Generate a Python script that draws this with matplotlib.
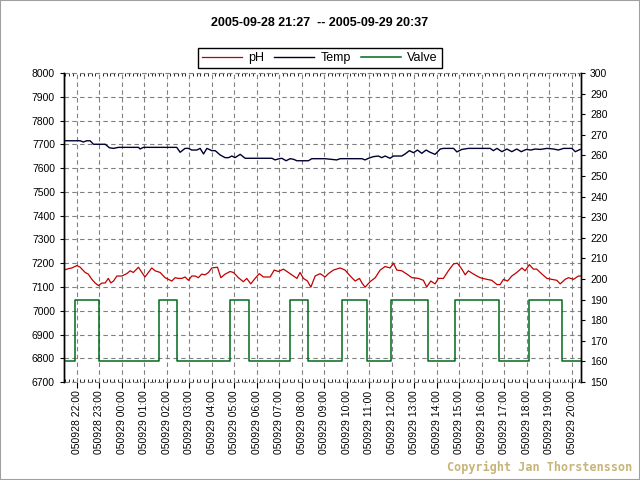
import numpy as np
import matplotlib
matplotlib.use("Agg")
import matplotlib.pyplot as plt
from matplotlib.ticker import MultipleLocator
from matplotlib.patches import Rectangle

# time in hours from 2005-09-28 00:00
ph_t = [21.44, 21.64, 21.79, 22.01, 22.16, 22.38, 22.52, 22.68, 22.82, 22.97,
        23.12, 23.27, 23.41, 23.52, 23.64, 23.79, 24.01, 24.23, 24.38, 24.52,
        24.75, 24.90, 25.04, 25.19, 25.34, 25.49, 25.71, 25.93, 26.08, 26.23,
        26.38, 26.52, 26.68, 26.82, 26.97, 27.12, 27.27, 27.41, 27.56, 27.71,
        27.86, 28.01, 28.26, 28.41, 28.60, 28.82, 28.97, 29.19, 29.41, 29.56,
        29.74, 29.93, 30.12, 30.30, 30.60, 30.78, 30.97, 31.19, 31.41, 31.64,
        31.79, 31.93, 32.08, 32.26, 32.41, 32.60, 32.82, 33.04, 33.19, 33.41,
        33.71, 33.93, 34.16, 34.38, 34.57, 34.68, 34.82, 35.04, 35.27, 35.49,
        35.71, 35.93, 36.08, 36.23, 36.45, 36.68, 36.90, 37.19, 37.41, 37.56,
        37.74, 37.93, 38.08, 38.30, 38.52, 38.75, 38.92, 39.12, 39.27, 39.41,
        39.64, 39.93, 40.23, 40.45, 40.68, 40.82, 40.97, 41.15, 41.34, 41.56,
        41.79, 41.93, 42.12, 42.30, 42.45, 42.68, 42.90, 43.12, 43.34, 43.49,
        43.71, 43.86, 44.08, 44.30, 44.45]
ph = [7171, 7177, 7180, 7190, 7183, 7161, 7154, 7132, 7117, 7106,
      7116, 7117, 7136, 7117, 7125, 7146, 7146, 7156, 7168, 7161,
      7183, 7161, 7142, 7161, 7180, 7168, 7161, 7139, 7132, 7125,
      7139, 7136, 7136, 7142, 7128, 7146, 7146, 7139, 7154, 7151,
      7161, 7180, 7183, 7139, 7154, 7165, 7161, 7139, 7122, 7136,
      7113, 7136, 7156, 7142, 7142, 7171, 7165, 7175, 7161, 7146,
      7136, 7161, 7136, 7125, 7099, 7146, 7156, 7142, 7156, 7171,
      7180, 7171, 7146, 7125, 7136, 7117, 7099, 7122, 7139, 7171,
      7186, 7180, 7200, 7171, 7168, 7154, 7139, 7136, 7128, 7100,
      7125, 7113, 7136, 7136, 7168, 7197, 7200, 7175, 7151, 7168,
      7154, 7139, 7132, 7128, 7110, 7110, 7132, 7125, 7146, 7161,
      7180, 7168, 7194, 7175, 7175, 7154, 7136, 7132, 7128, 7113,
      7132, 7139, 7132, 7146, 7146]

temp_t = [21.44, 22.16, 22.30, 22.45, 22.60, 22.75, 23.27, 23.46, 23.64, 23.86,
          24.75, 24.82, 24.97, 26.45, 26.60, 26.82, 26.97, 27.12, 27.34, 27.49,
          27.64, 27.79, 28.01, 28.16, 28.38, 28.60, 28.75, 28.90, 29.04, 29.27,
          29.49, 30.68, 30.82, 30.97, 31.12, 31.31, 31.49, 31.64, 31.79, 32.30,
          32.45, 33.04, 33.56, 33.71, 34.68, 34.82, 34.97, 35.19, 35.41, 35.56,
          35.71, 35.93, 36.08, 36.45, 36.60, 36.79, 36.97, 37.15, 37.34, 37.53,
          37.71, 37.93, 38.16, 38.30, 38.75, 38.90, 39.12, 39.41, 40.38, 40.52,
          40.68, 40.90, 41.12, 41.34, 41.56, 41.76, 41.98, 42.19, 42.38, 42.60,
          42.90, 43.19, 43.41, 43.64, 44.01, 44.16, 44.38]
temp = [267.1, 267.1, 266.5, 267.1, 267.1, 265.4, 265.4, 263.7, 263.4, 263.9,
        263.9, 263.1, 263.9, 263.9, 261.5, 263.4, 263.4, 262.6, 262.6, 263.4,
        260.7, 263.4, 262.3, 262.3, 260.2, 258.9, 258.9, 259.7, 258.9, 260.5,
        258.6, 258.6, 257.8, 258.3, 258.6, 257.4, 258.4, 258.1, 257.4, 257.4,
        258.4, 258.4, 257.8, 258.4, 258.4, 257.8, 258.6, 259.4, 259.7, 258.9,
        259.7, 258.6, 259.7, 259.7, 260.7, 262.3, 261.3, 262.6, 261.0, 262.6,
        261.5, 260.5, 263.1, 263.4, 263.4, 261.7, 262.9, 263.4, 263.4, 262.3,
        263.4, 261.8, 263.1, 261.8, 263.1, 261.8, 262.9, 262.6, 263.1, 262.9,
        263.4, 263.1, 262.6, 263.4, 263.4, 261.8, 262.9]

valve_t = [21.44, 21.95, 22.99, 25.64, 26.45, 28.81, 29.64, 31.48, 32.30,
           33.79, 34.92, 35.96, 37.61, 38.81, 40.79, 42.12, 43.59, 44.45]
valve = [160, 190, 160, 190, 160, 190, 160, 190, 160,
         190, 160, 190, 160, 190, 160, 190, 160, 160]

hours = list(range(22, 45))
xlabels = ["%s %02d:00" % ("050928" if h < 24 else "050929", h % 24) for h in hours]

plt.rcParams['font.family'] = ['Liberation Sans', 'DejaVu Sans']

fig = plt.figure(figsize=(6.4, 4.8), dpi=100)
fig.patches.append(Rectangle((0, 0), 1, 1, transform=fig.transFigure,
                             fill=False, edgecolor='#a0a0a0', lw=1.5))
ax = fig.add_axes([0.1, 0.204, 0.808, 0.644])
ax2 = ax.twinx()

ax.set_xlim(21.44, 44.42)
ax.set_ylim(6700, 8000)
ax2.set_ylim(150, 300)

l1, = ax.plot(ph_t, ph, color='#c00000', lw=0.9)
l2, = ax2.plot(temp_t, temp, color='#000030', lw=1.0)
l3, = ax2.plot(valve_t, valve, color='#006b1a', lw=1.1, drawstyle='steps-post')

ax.set_xticks(hours)
ax.set_xticklabels(xlabels, rotation=90, fontsize=7.5)
ax.xaxis.set_minor_locator(MultipleLocator(1 / 6))
ax.yaxis.set_major_locator(MultipleLocator(100))
ax2.yaxis.set_major_locator(MultipleLocator(10))
ax.tick_params(axis='y', labelsize=7.5, length=3, width=0.8)
ax2.tick_params(axis='y', labelsize=7.5, length=3, width=0.8)
ax.tick_params(axis='x', which='major', length=4, width=0.8, pad=2)
ax.tick_params(axis='x', which='minor', length=2, width=0.6, direction='in', top=True)

ax.grid(True, color='#808080', ls=(0, (4, 3)), lw=0.8)
for a in (ax, ax2):
    a.spines['top'].set_visible(False)
    a.spines['bottom'].set_visible(False)
    a.spines['left'].set_linewidth(1.0)
    a.spines['right'].set_linewidth(1.0)
ax.axhline(8000, color='#808080', ls=(0, (4, 3)), lw=0.8, clip_on=False)
ax.axhline(6700, color='#808080', ls=(0, (4, 3)), lw=0.8, clip_on=False)

fig.text(0.5, 0.953, "2005-09-28 21:27  -- 2005-09-29 20:37", ha='center', va='center',
         fontsize=9, fontweight='bold', family=['Liberation Sans Narrow', 'Liberation Sans'])
leg = fig.legend([l1, l2, l3], ['pH', 'Temp', 'Valve'], loc='center',
                 bbox_to_anchor=(0.5, 0.879), ncol=3, fontsize=9, fancybox=False,
                 edgecolor='black', framealpha=1, handlelength=3.2, columnspacing=0.8,
                 handletextpad=0.5, borderpad=0.3)
leg.get_frame().set_linewidth(1.0)

fig.text(0.988, 0.027, "Copyright Jan Thorstensson", ha='right', va='center',
         fontsize=8.5, color='#c8b478', family='DejaVu Sans Mono', fontweight='bold')

fig.savefig('out.png', dpi=100)
